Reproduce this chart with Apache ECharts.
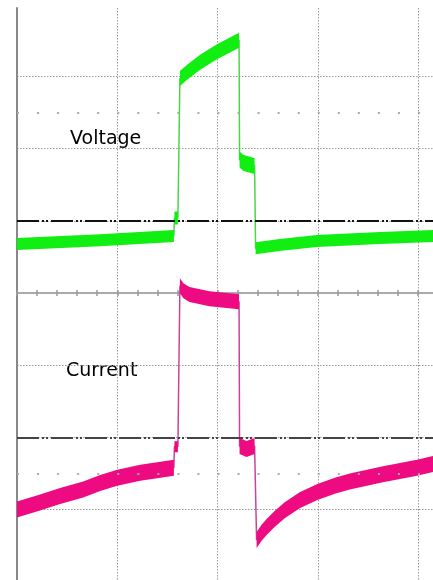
<!DOCTYPE html>
<html>
<head>
<meta charset="utf-8">
<script src="https://cdn.jsdelivr.net/npm/echarts@6/dist/echarts.min.js"></script>
<style>
html, body { margin: 0; padding: 0; background: #fff; }
#box { width: 433px; height: 580px; }
</style>
</head>
<body>
<div id="box"></div>
<script>
// scope traces: x in divisions from the left edge, y in divisions from the centre line
var voltageBefore = [[0, 0.68], [0.83, 0.73], [1.565, 0.79]];
var voltageBump = [[1.57, 1.04], [1.605, 1.04]];
var voltagePulse = [[1.625, 2.97], [1.7, 3.06], [1.83, 3.2], [1.995, 3.34], [2.215, 3.5]];
var voltageStep = [[2.22, 1.85], [2.26, 1.8], [2.37, 1.76]];
var voltageAfter = [[2.38, 0.62], [2.62, 0.665], [2.99, 0.72], [3.62, 0.76], [4.15, 0.79]];

var currentBefore = [[0, -3.0], [0.23, -2.9], [0.43, -2.81], [0.66, -2.72], [0.83, -2.63], [1.0, -2.56], [1.23, -2.49], [1.565, -2.42]];
var currentBump = [[1.57, -2.13], [1.605, -2.13]];
var currentPulse = [[1.625, 0.1], [1.66, 0.03], [1.72, -0.02], [1.92, -0.08], [2.215, -0.12]];
var currentStep = [[2.22, -2.12], [2.29, -2.16], [2.37, -2.12]];
var currentAfter = [[2.39, -3.42], [2.44, -3.32], [2.49, -3.24], [2.57, -3.13], [2.67, -3.01], [2.82, -2.87], [2.99, -2.76], [3.17, -2.67], [3.32, -2.61], [3.65, -2.51], [3.99, -2.42], [4.15, -2.37]];

// reference levels
var markerLevels = [1, -2];
var dotRows = [2.5, -2.5];

var GREEN = "#11ee11";
var PINK = "#ee0a80";

// noisy trace drawn as a band of fixed vertical thickness around the points
function band(seg, thick, color) {
  return {
    type: "custom",
    data: [seg[0]],
    silent: true,
    clip: true,
    z: 4,
    renderItem: function (params, api) {
      var pts = seg.map(function (p) { return api.coord(p); });
      var upper = pts.map(function (p) { return [p[0], p[1] - thick / 2]; });
      var lower = pts.slice().reverse().map(function (p) { return [p[0], p[1] + thick / 2]; });
      return {
        type: "polygon",
        shape: { points: upper.concat(lower) },
        style: { fill: color },
      };
    },
  };
}

function trace(segs, color) {
  var all = [];
  segs.forEach(function (s) { all = all.concat(s); });
  return {
    type: "line",
    data: all,
    showSymbol: false,
    silent: true,
    z: 3,
    lineStyle: { color: color, width: 1.5 },
  };
}

var myChart = echarts.init(document.getElementById("box"));

var xAxisBase = {
  type: "value",
  min: 0,
  max: 5,
  interval: 1,
  axisTick: { show: true, length: 3, lineStyle: { color: "#999", width: 1.5 } },
  minorTick: { show: true, splitNumber: 5, length: 3, lineStyle: { color: "#999", width: 1.5 } },
  axisLabel: { show: false },
};

var yAxisBase = {
  type: "value",
  min: -4,
  max: 3.947,
  interval: 1,
  axisTick: { show: false },
  axisLabel: { show: false },
};

var option = {
  animation: false,
  backgroundColor: "#fff",
  grid: { left: 17, top: 8, right: -85.25, bottom: -1.8, outerBoundsMode: "none" },
  xAxis: [
    Object.assign({}, xAxisBase, {
      position: "bottom",
      axisLine: { show: true, onZero: true, onZeroAxisIndex: 0, lineStyle: { color: "#aaa", width: 2 } },
      splitLine: { show: true, showMinLine: false, lineStyle: { color: "#999", width: 1, type: [1.5, 1.5] } },
    }),
    Object.assign({}, xAxisBase, {
      position: "top",
      axisLine: { show: true, onZero: true, onZeroAxisIndex: 1, lineStyle: { color: "#aaa", width: 2 } },
      splitLine: { show: false },
    }),
  ],
  yAxis: [
    Object.assign({}, yAxisBase, {
      position: "left",
      axisLine: { show: true, onZero: false, lineStyle: { color: "#888", width: 2 } },
      splitLine: { show: true, showMinLine: false, showMaxLine: false, lineStyle: { color: "#999", width: 1, type: [1.5, 1.5] } },
    }),
    Object.assign({}, yAxisBase, {
      position: "right",
      axisLine: { show: false, onZero: false },
      splitLine: { show: false },
    }),
  ],
  graphic: [
    { type: "text", left: 70, top: 130, style: { text: "Voltage", fontSize: 19, fontFamily: "DejaVu Sans", fill: "#000" } },
    { type: "text", left: 66, top: 362, style: { text: "Current", fontSize: 19, fontFamily: "DejaVu Sans", fill: "#000" } },
  ],
  series: [
    {
      type: "line",
      data: [],
      z: 1,
      silent: true,
      markLine: {
        silent: true,
        symbol: "none",
        label: { show: false },
        lineStyle: { color: "#aaa", width: 2, type: [2, 18.05] },
        data: dotRows.map(function (v) { return { yAxis: v }; }),
      },
    },
    trace([voltageBefore, voltageBump, voltagePulse, voltageStep, voltageAfter], "#4cd44c"),
    band(voltageBefore, 12, GREEN),
    band(voltageBump, 13, GREEN),
    band(voltagePulse, 15, GREEN),
    band(voltageStep, 16, GREEN),
    band(voltageAfter, 12, GREEN),
    trace([currentBefore, currentBump, currentPulse, currentStep, currentAfter], "#c8449a"),
    band(currentBefore, 16, PINK),
    band(currentBump, 11, PINK),
    band(currentPulse, 15, PINK),
    band(currentStep, 16, PINK),
    band(currentAfter, 16, PINK),
    {
      type: "line",
      data: [],
      z: 10,
      silent: true,
      markLine: {
        silent: true,
        symbol: "none",
        label: { show: false },
        data: [
          { yAxis: markerLevels[0], lineStyle: { color: "#111", width: 2, type: [22, 3, 2, 2, 2, 3] } },
          { yAxis: markerLevels[1], lineStyle: { color: "#444", width: 2, type: [22, 3, 2, 2, 2, 3] } },
        ],
      },
    },
  ],
};

myChart.setOption(option);
</script>
</body>
</html>
